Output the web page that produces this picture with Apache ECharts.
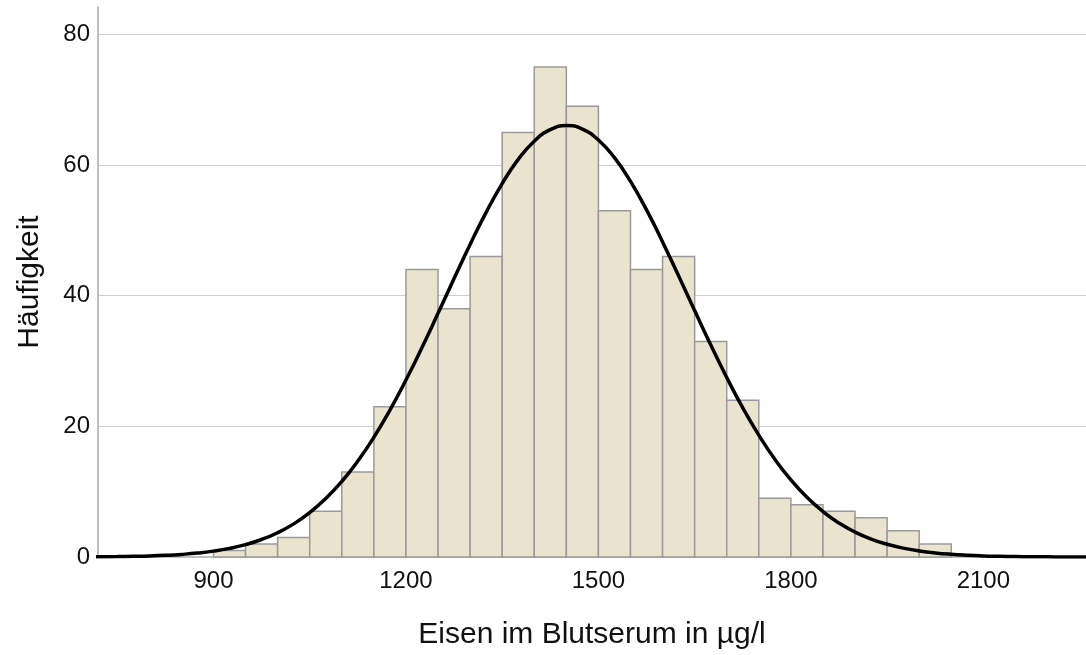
<!DOCTYPE html>
<html>
<head>
<meta charset="utf-8">
<title>Eisen im Blutserum</title>
<script src="https://cdn.jsdelivr.net/npm/echarts@6.0.0/dist/echarts.min.js"></script>
<style>
  html, body { margin: 0; padding: 0; background: #fff; }
  #chart { width: 1086px; height: 655px; }
</style>
</head>
<body>
<div id="chart"></div>
<script>
// Histogramm: Klassenanfang (Breite 50) und Häufigkeit
const binWidth = 50;
const binStarts = [900, 950, 1000, 1050, 1100, 1150, 1200, 1250, 1300, 1350, 1400, 1450,
                   1500, 1550, 1600, 1650, 1700, 1750, 1800, 1850, 1900, 1950, 2000];
const counts = [1, 2, 3, 7, 13, 23, 44, 38, 46, 65, 75, 69,
                53, 44, 46, 33, 24, 9, 8, 7, 6, 4, 2];

// Normalverteilungskurve (alle 25 µg/l)
const curveX = [700, 725, 750, 775, 800, 825, 850, 875, 900, 925, 950, 975,
                1000, 1025, 1050, 1075, 1100, 1125, 1150, 1175, 1200, 1225, 1250, 1275,
                1300, 1325, 1350, 1375, 1400, 1425, 1450, 1475, 1500, 1525, 1550, 1575,
                1600, 1625, 1650, 1675, 1700, 1725, 1750, 1775, 1800, 1825, 1850, 1875,
                1900, 1925, 1950, 1975, 2000, 2025, 2050, 2075, 2100, 2125, 2150, 2175,
                2200, 2225, 2250, 2275, 2300];
const curveY = [0.02, 0.04, 0.06, 0.1, 0.16, 0.26, 0.4, 0.6, 0.9, 1.32, 1.9, 2.68,
                3.72, 5.07, 6.79, 8.94, 11.56, 14.69, 18.33, 22.48, 27.09, 32.07, 37.3, 42.62,
                47.84, 52.76, 57.17, 60.87, 63.66, 65.42, 66.05, 65.51, 63.84, 61.13, 57.5, 53.14,
                48.24, 43.04, 37.72, 32.48, 27.48, 22.83, 18.65, 14.96, 11.79, 9.13, 6.95, 5.19,
                3.81, 2.75, 1.95, 1.36, 0.93, 0.62, 0.41, 0.27, 0.17, 0.11, 0.07, 0.04,
                0.03, 0.01, 0.01, 0, 0];

const xTicks = [900, 1200, 1500, 1800, 2100];

const barData = binStarts.map((s, i) => [s, s + binWidth, counts[i]]);
const lineData = curveX.map((x, i) => [x, curveY[i]]);

const font = 'Liberation Sans, Arial, sans-serif';
const myChart = echarts.init(document.getElementById('chart'));

myChart.setOption({
    animation: false,
    grid: { left: 98, right: 0, top: 7, bottom: 98 },
    xAxis: {
        type: 'value',
        min: 720,
        max: 2260,
        name: 'Eisen im Blutserum in µg/l',
        nameLocation: 'middle',
        nameGap: 63,
        nameTextStyle: { fontFamily: font, fontSize: 30, color: '#111' },
        axisLine: { show: true, onZero: false, lineStyle: { color: '#aaa', width: 1.5 } },
        axisTick: { show: false },
        splitLine: { show: false },
        axisLabel: {
            customValues: xTicks,
            formatter: v => String(v),
            fontFamily: font, fontSize: 24, color: '#111', margin: 12
        }
    },
    yAxis: {
        type: 'value',
        min: 0,
        max: 84.2,
        interval: 20,
        name: 'Häufigkeit',
        nameLocation: 'middle',
        nameGap: 53,
        nameTextStyle: { fontFamily: font, fontSize: 30, color: '#111' },
        axisLine: { show: true, lineStyle: { color: '#aaa', width: 1.5 } },
        axisTick: { show: false },
        axisLabel: {
            fontFamily: font, fontSize: 24, color: '#111', margin: 8,
            showMaxLabel: false
        },
        splitLine: {
            show: true, showMinLine: false, showMaxLine: false,
            lineStyle: { color: '#cfcfcf', width: 1.2 }
        }
    },
    series: [
        {
            type: 'custom',
            data: barData,
            encode: { x: [0, 1], y: 2 },
            renderItem: (params, api) => {
                const p0 = api.coord([api.value(0), 0]);
                const p1 = api.coord([api.value(1), api.value(2)]);
                return {
                    type: 'rect',
                    shape: { x: p0[0], y: p1[1], width: p1[0] - p0[0], height: p0[1] - p1[1] },
                    style: { fill: '#EAE4CF', stroke: '#9a9a9a', lineWidth: 1.5 }
                };
            },
            z: 2
        },
        {
            type: 'line',
            data: lineData,
            smooth: true,
            showSymbol: false,
            lineStyle: { color: '#000', width: 3.5 },
            z: 3
        }
    ]
});
</script>
</body>
</html>
